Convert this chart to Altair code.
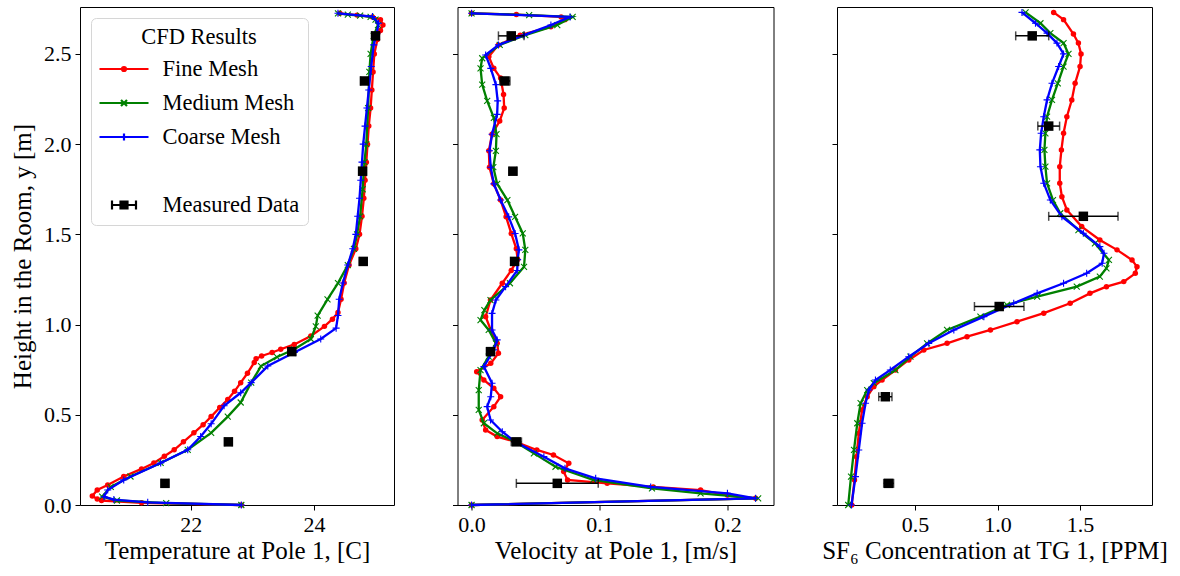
import altair as alt
import pandas as pd

FONT = "Liberation Serif"

# ---------------- Temperature at Pole 1 ----------------
t_fine_y = [0.0, 0.012, 0.025, 0.033, 0.05, 0.083, 0.111, 0.158, 0.2, 0.233, 0.27, 0.306, 0.35, 0.4, 0.445,
            0.49, 0.54, 0.585, 0.63, 0.678, 0.73, 0.79, 0.81, 0.826, 0.845, 0.863, 0.89, 0.937, 0.99, 1.03,
            1.067, 1.14, 1.23, 1.33, 1.42, 1.5, 1.6, 1.7, 1.8, 1.9, 2.0, 2.1, 2.2, 2.3, 2.4, 2.5, 2.58, 2.63,
            2.66, 2.69, 2.705, 2.715, 2.725]
t_fine_x = [22.82, 21.2, 20.55, 20.48, 20.40, 20.48, 20.65, 20.91, 21.2, 21.40, 21.57, 21.73, 21.88, 22.05, 22.2,
            22.33, 22.47, 22.6, 22.71, 22.81, 22.92, 23.03, 23.06, 23.15, 23.32, 23.46, 23.68, 23.95, 24.17, 24.3,
            24.39, 24.44, 24.49, 24.57, 24.68, 24.74, 24.78, 24.81, 24.83, 24.85, 24.87, 24.89, 24.92, 24.94, 24.96,
            24.98, 25.03, 25.08, 25.12, 25.08, 24.95, 24.7, 24.42]
t_med_y = [0.0, 0.01, 0.025, 0.046, 0.10, 0.158, 0.233, 0.306, 0.40, 0.49, 0.568, 0.678, 0.77, 0.82, 0.863,
           0.92, 0.99, 1.05, 1.14, 1.23, 1.33, 1.42, 1.5, 1.6, 1.75, 1.9, 2.0, 2.2, 2.4, 2.5, 2.6, 2.66, 2.69,
           2.705, 2.712, 2.718, 2.725]
t_med_x = [22.82, 21.6, 20.8, 20.56, 20.70, 21.02, 21.51, 21.95, 22.33, 22.60, 22.81, 22.98, 23.14, 23.4, 23.68,
           23.95, 24.03, 24.06, 24.22, 24.39, 24.55, 24.65, 24.7, 24.75, 24.79, 24.82, 24.85, 24.88, 24.9, 24.92,
           24.97, 25.04, 25.0, 24.92, 24.75, 24.55, 24.39]
t_crs_y = [0.0, 0.015, 0.03, 0.046, 0.083, 0.139, 0.233, 0.306, 0.38, 0.45, 0.55, 0.622, 0.678, 0.77, 0.845,
           0.92, 0.98, 1.05, 1.14, 1.23, 1.33, 1.42, 1.5, 1.6, 1.7, 1.8, 1.9, 2.0, 2.1, 2.2, 2.3, 2.43, 2.55,
           2.615, 2.67, 2.707, 2.725]
t_crs_x = [22.82, 21.3, 20.75, 20.59, 20.65, 20.91, 21.51, 21.95, 22.16, 22.33, 22.54, 22.81, 22.98, 23.25, 23.68,
           24.11, 24.36, 24.39, 24.41, 24.47, 24.55, 24.63, 24.68, 24.71, 24.74, 24.76, 24.78, 24.8, 24.83, 24.86,
           24.89, 24.93, 24.97, 25.02, 25.05, 24.95, 24.39]
t_meas_y = [0.12, 0.35, 0.85, 1.35, 1.85, 2.35, 2.6]
t_meas_x = [21.58, 22.61, 23.64, 24.80, 24.79, 24.82, 25.0]
t_meas_err = [0.06, 0.06, 0.06, 0.06, 0.06, 0.06, 0.06]

# ---------------- Velocity at Pole 1 ----------------
v_fine_y = [0.0, 0.037, 0.055, 0.083, 0.10, 0.12, 0.139, 0.185, 0.231, 0.277, 0.305, 0.351, 0.379, 0.416, 0.471,
            0.545, 0.60, 0.647, 0.693, 0.739, 0.785, 0.841, 0.896, 0.97, 1.044, 1.136, 1.229, 1.30, 1.36, 1.42,
            1.505, 1.597, 1.69, 1.78, 1.872, 1.963, 2.055, 2.128, 2.2, 2.275, 2.366, 2.42, 2.485, 2.55, 2.604,
            2.65, 2.69, 2.705, 2.718, 2.725]
v_fine_x = [0.0, 0.222, 0.2, 0.179, 0.142, 0.106, 0.075, 0.072, 0.076, 0.064, 0.051, 0.034, 0.020, 0.011, 0.0083,
            0.0174, 0.0227, 0.0174, 0.0096, 0.004, 0.015, 0.021, 0.020, 0.015, 0.011, 0.0148, 0.024, 0.031, 0.036,
            0.035, 0.031, 0.027, 0.0227, 0.0174, 0.014, 0.0135, 0.016, 0.022, 0.0255, 0.025, 0.0227, 0.0174, 0.0135,
            0.021, 0.038, 0.062, 0.073, 0.07, 0.035, 0.0]
v_med_y = [0.0, 0.037, 0.065, 0.092, 0.139, 0.212, 0.286, 0.351, 0.397, 0.453, 0.527, 0.637, 0.748, 0.822,
           0.896, 0.97, 1.025, 1.08, 1.136, 1.229, 1.32, 1.414, 1.505, 1.597, 1.69, 1.78, 1.872, 1.963, 2.055,
           2.146, 2.24, 2.33, 2.42, 2.476, 2.55, 2.604, 2.66, 2.705, 2.715, 2.725]
v_med_x = [0.0, 0.224, 0.179, 0.141, 0.095, 0.0656, 0.0487, 0.034, 0.020, 0.0096, 0.0056, 0.0056, 0.007, 0.0134,
           0.019, 0.0134, 0.007, 0.01, 0.0148, 0.030, 0.041, 0.042, 0.040, 0.034, 0.028, 0.02, 0.017, 0.019,
           0.0195, 0.0174, 0.0122, 0.0083, 0.007, 0.0083, 0.022, 0.042, 0.067, 0.079, 0.045, 0.0]
v_crs_y = [0.0, 0.037, 0.065, 0.10, 0.148, 0.203, 0.268, 0.351, 0.406, 0.471, 0.545, 0.60, 0.675, 0.767, 0.86,
           0.915, 0.97, 1.062, 1.136, 1.21, 1.30, 1.36, 1.414, 1.505, 1.597, 1.69, 1.78, 1.872, 1.963, 2.055,
           2.165, 2.24, 2.33, 2.42, 2.494, 2.55, 2.604, 2.66, 2.705, 2.725]
v_crs_x = [0.0, 0.222, 0.2, 0.140, 0.097, 0.073, 0.0565, 0.034, 0.024, 0.0148, 0.0122, 0.015, 0.016, 0.0096,
           0.0174, 0.020, 0.016, 0.016, 0.019, 0.0266, 0.0357, 0.036, 0.037, 0.034, 0.029, 0.0227, 0.0174, 0.015,
           0.014, 0.016, 0.02, 0.0204, 0.019, 0.015, 0.011, 0.021, 0.041, 0.062, 0.077, 0.0]
v_meas_y = [0.12, 0.35, 0.85, 1.35, 1.85, 2.35, 2.6]
v_meas_x = [0.067, 0.035, 0.0148, 0.0336, 0.0323, 0.026, 0.031]
v_meas_err = [0.032, 0.004, 0.003, 0.003, 0.003, 0.004, 0.010]

# ---------------- SF6 Concentration at TG 1 ----------------
c_fine_y = [0.0, 0.139, 0.268, 0.397, 0.527, 0.60, 0.656, 0.693, 0.748, 0.804, 0.859, 0.896, 0.933, 0.97, 1.016,
            1.063, 1.118, 1.173, 1.21, 1.238, 1.284, 1.321, 1.358, 1.414, 1.469, 1.543, 1.635, 1.709, 1.783,
            1.875, 1.968, 2.06, 2.152, 2.245, 2.337, 2.43, 2.50, 2.56, 2.61, 2.69, 2.73]
c_fine_x = [0.116, 0.133, 0.145, 0.159, 0.179, 0.21, 0.25, 0.30, 0.381, 0.462, 0.553, 0.694, 0.815, 0.957, 1.118,
            1.28, 1.44, 1.56, 1.66, 1.765, 1.835, 1.845, 1.815, 1.724, 1.62, 1.51, 1.42, 1.39, 1.377, 1.377,
            1.387, 1.40, 1.42, 1.45, 1.47, 1.50, 1.506, 1.49, 1.46, 1.40, 1.34]
c_med_y = [0.0, 0.157, 0.305, 0.453, 0.564, 0.637, 0.675, 0.748, 0.822, 0.896, 0.97, 1.044, 1.109, 1.155, 1.21,
           1.266, 1.312, 1.358, 1.45, 1.524, 1.617, 1.69, 1.783, 1.875, 1.968, 2.06, 2.152, 2.245, 2.337, 2.43,
           2.50, 2.56, 2.615, 2.67, 2.73]
c_med_x = [0.095, 0.112, 0.13, 0.15, 0.17, 0.21, 0.25, 0.381, 0.472, 0.573, 0.694, 0.896, 1.057, 1.24, 1.48,
           1.62, 1.66, 1.675, 1.59, 1.49, 1.38, 1.336, 1.30, 1.29, 1.284, 1.29, 1.30, 1.33, 1.365, 1.40, 1.43,
           1.40, 1.32, 1.26, 1.17]
c_crs_y = [0.0, 0.157, 0.305, 0.453, 0.564, 0.637, 0.693, 0.748, 0.822, 0.896, 0.97, 1.044, 1.118, 1.173, 1.229,
           1.284, 1.34, 1.395, 1.432, 1.506, 1.598, 1.69, 1.783, 1.875, 1.968, 2.06, 2.152, 2.245, 2.337, 2.43,
           2.50, 2.56, 2.615, 2.67, 2.73]
c_crs_x = [0.115, 0.139, 0.159, 0.179, 0.20, 0.22, 0.26, 0.35, 0.462, 0.583, 0.735, 0.917, 1.098, 1.24, 1.40,
           1.54, 1.634, 1.645, 1.62, 1.52, 1.39, 1.32, 1.28, 1.26, 1.256, 1.264, 1.28, 1.30, 1.33, 1.37, 1.40,
           1.36, 1.30, 1.23, 1.148]
c_meas_y = [0.12, 0.6, 1.1, 1.6, 2.1, 2.6]
c_meas_x = [0.34, 0.32, 1.01, 1.52, 1.31, 1.21]
c_meas_err = [0.03, 0.04, 0.15, 0.21, 0.066, 0.10]

# ---------------- labels / ticks ----------------
legend_labels = ["Fine Mesh", "Medium Mesh", "Coarse Mesh", " ", "Measured Data"]
legend_colors = ["#ff0000", "#008000", "#0000ff", "transparent", "#000000"]
y_ticks = [0.0, 0.5, 1.0, 1.5, 2.0, 2.5]
y_title = "Height in the Room, y [m]"

X_MARK = "M-1,-1L1,1M-1,1L1,-1"
PLUS_MARK = "M-1,0L1,0M0,-1L0,1"
legend_shapes = [
    "M-2.45,0L2.45,0M-0.2,0A0.2,0.2 0 1,0 0.2,0A0.2,0.2 0 1,0 -0.2,0"
    "M-0.05,0A0.05,0.05 0 1,0 0.05,0A0.05,0.05 0 1,0 -0.05,0",
    "M-2.45,0L2.45,0M-0.3,-0.3L0.3,0.3M-0.3,0.3L0.3,-0.3",
    "M-2.45,0L2.45,0M0,-0.35L0,0.35",
    "M-0.01,0L0.01,0",
    "M-1.2,0L1.2,0M-1.2,-0.45L-1.2,0.45M1.2,-0.45L1.2,0.45"
    "M-0.35,-0.35L0.35,-0.35L0.35,0.35L-0.35,0.35Z"
    "M-0.15,-0.15L0.15,-0.15L0.15,0.15L-0.15,0.15Z"
    "M-0.02,-0.02L0.02,-0.02L0.02,0.02L-0.02,0.02Z",
]


def curve_df(ys, xs):
    assert len(ys) == len(xs)
    return pd.DataFrame({"y": ys, "x": xs, "i": list(range(len(ys)))})


def make_panel(curves, meas, xdom, xvals, xfmt, xtitle, width, first):
    xs = alt.Scale(domain=xdom, nice=False, zero=False)
    ys = alt.Scale(domain=[0, 2.76], nice=False, zero=False)
    xax = alt.Axis(values=xvals, format=xfmt, title=xtitle)
    if first:
        yax = alt.Axis(values=y_ticks, format=".1f", title=y_title)
    else:
        yax = alt.Axis(values=y_ticks, labels=False, title=None)

    def X(f):
        return alt.X(f, type="quantitative", scale=xs, axis=xax)

    Y = alt.Y("y:Q", scale=ys, axis=yax)
    layers = []
    for ylist, xlist, color, shape, size, filled in curves:
        base = alt.Chart(curve_df(ylist, xlist))
        layers.append(base.mark_line(color=color, strokeWidth=2.3).encode(x=X("x"), y=Y, order="i:Q"))
        layers.append(base.mark_point(shape=shape, size=size, filled=filled, color=color,
                                      strokeWidth=1.1, opacity=1).encode(x=X("x"), y=Y))
    my, mx, me = meas
    mdf = pd.DataFrame({"y": my, "x": mx, "err": me})
    mdf["lo"] = mdf["x"] - mdf["err"]
    mdf["hi"] = mdf["x"] + mdf["err"]
    mbase = alt.Chart(mdf)
    layers.append(mbase.mark_errorbar(color="black", thickness=1.5,
                                      ticks={"size": 9, "thickness": 1.5, "color": "black"})
                  .encode(x=X("lo"), x2=alt.X2("hi:Q"), y=Y))
    layers.append(mbase.mark_square(size=90, color="black", opacity=1).encode(x=X("x"), y=Y))

    if first:
        leg = alt.Legend(title="CFD Results", orient="none", legendX=11, legendY=11, padding=8,
                         strokeColor="#d6d6d6", fillColor="white", cornerRadius=5,
                         titleFont=FONT, titleFontSize=22.5, titleFontWeight="normal", titleColor="black",
                         titleAnchor="middle", titlePadding=9,
                         labelFont=FONT, labelFontSize=22.5, labelColor="black", labelOffset=27,
                         symbolOffset=13.5, symbolSize=400, symbolStrokeWidth=2.2, symbolOpacity=1,
                         rowPadding=11, labelLimit=300)
        ldf = pd.DataFrame({"series": legend_labels, "x": [0.0] * 5, "y": [1.0] * 5})
        layers.append(alt.Chart(ldf).mark_point(clip=True, filled=False, size=400, strokeWidth=2.2, opacity=1)
                      .encode(x=X("x"), y=Y,
                              color=alt.Color("series:N", scale=alt.Scale(domain=legend_labels, range=legend_colors), legend=leg),
                              shape=alt.Shape("series:N", scale=alt.Scale(domain=legend_labels, range=legend_shapes), legend=leg)))
    return alt.layer(*layers).properties(width=width, height=498)


RED, GREEN, BLUE = "#ff0000", "#008000", "#0000ff"

p1 = make_panel(
    [(t_fine_y, t_fine_x, RED, "circle", 30, True),
     (t_med_y, t_med_x, GREEN, X_MARK, 36, False),
     (t_crs_y, t_crs_x, BLUE, PLUS_MARK, 49, False)],
    (t_meas_y, t_meas_x, t_meas_err), [20.2, 25.3], [22, 24], "d", "Temperature at Pole 1, [C]", 314, True)
p2 = make_panel(
    [(v_fine_y, v_fine_x, RED, "circle", 30, True),
     (v_med_y, v_med_x, GREEN, X_MARK, 36, False),
     (v_crs_y, v_crs_x, BLUE, PLUS_MARK, 49, False)],
    (v_meas_y, v_meas_x, v_meas_err), [-0.011, 0.236], [0.0, 0.1, 0.2], ".1f", "Velocity at Pole 1, [m/s]", 316, False)
p3 = make_panel(
    [(c_fine_y, c_fine_x, RED, "circle", 30, True),
     (c_med_y, c_med_x, GREEN, X_MARK, 36, False),
     (c_crs_y, c_crs_x, BLUE, PLUS_MARK, 49, False)],
    (c_meas_y, c_meas_x, c_meas_err), [0.027, 1.936], [0.5, 1.0, 1.5], ".1f", "SF₆ Concentration at TG 1, [PPM]", 315, False)

chart = (
    alt.hconcat(p1, p2, p3, spacing=63.5, bounds="flush")
    .resolve_scale(color="independent", shape="independent")
    .resolve_legend(color="independent", shape="independent")
    .properties(padding={"left": 10, "top": 6, "right": 5, "bottom": 5})
    .configure(font=FONT, background="white")
    .configure_view(stroke="black", strokeWidth=1)
    .configure_axis(labelFont=FONT, labelFontSize=22, labelColor="black", titleFont=FONT, titleFontSize=25,
                    titleFontWeight="normal", titleColor="black", tickColor="black", tickSize=5, tickWidth=1,
                    domain=False, grid=False, labelPadding=4, labelFlush=False)
    .configure_axisX(titlePadding=3)
    .configure_axisY(titlePadding=8)
)

chart.save("out.html", embed_options={"renderer": "svg", "actions": False})
